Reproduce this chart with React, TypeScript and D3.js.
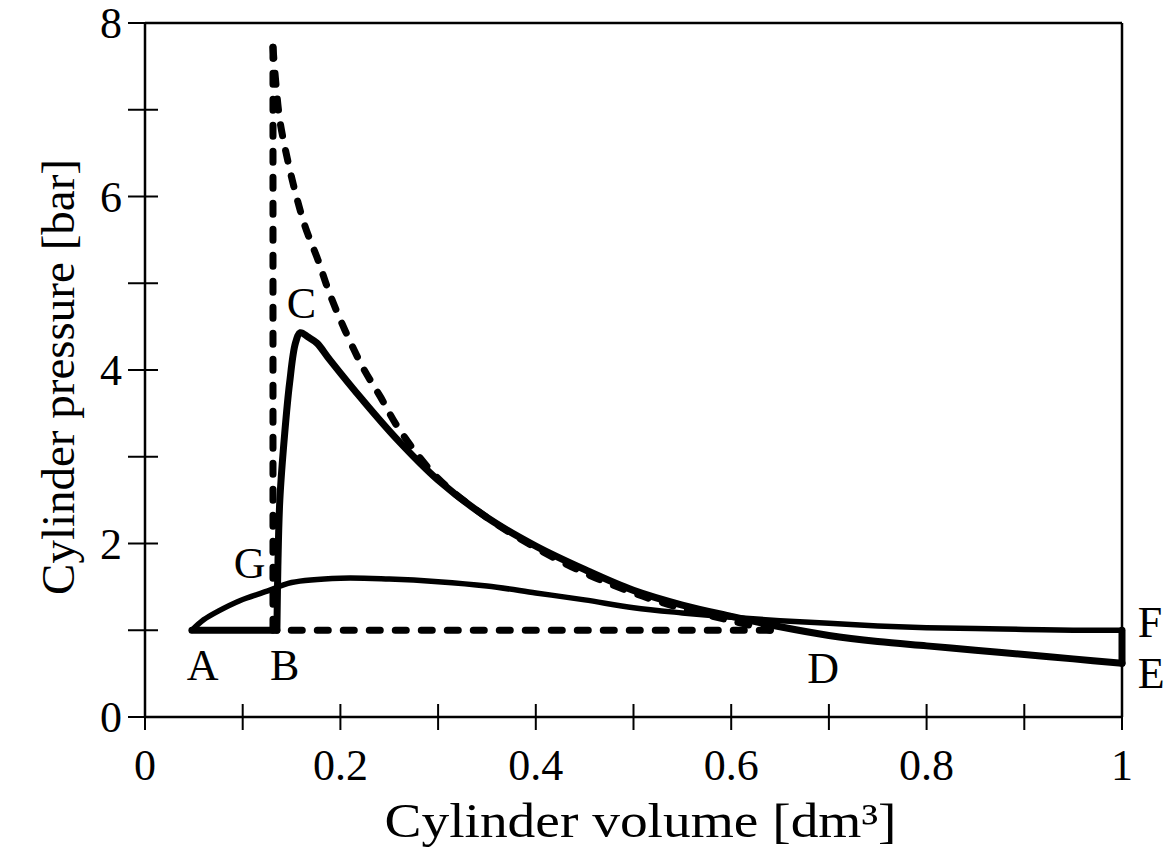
import React from "react";
import * as d3 from "d3";

// ideal cycle (dashed)
const idealTopV = [0.131, 0.131];
const idealTopP = [1.0, 7.72];
const idealExpV = [0.131, 0.134, 0.138, 0.146, 0.155, 0.164, 0.177, 0.189, 0.205, 0.223, 0.241, 0.26, 0.3, 0.35, 0.4, 0.45, 0.5, 0.55, 0.6, 0.64];
const idealExpP = [7.72, 7.3, 6.88, 6.42, 6.0, 5.65, 5.27, 4.88, 4.45, 4.03, 3.69, 3.32, 2.75, 2.3, 1.95, 1.66, 1.43, 1.25, 1.11, 1.0];
const idealBaseV = [0.64, 0.135];
const idealBaseP = [1.0, 1.0];

// measured cycle (solid)
const intakeV = [0.048, 0.135];
const intakeP = [1.0, 1.0];
const expansionV = [0.135, 0.136, 0.138, 0.143, 0.148, 0.154, 0.159, 0.167, 0.176, 0.189, 0.223, 0.258, 0.3, 0.35, 0.4, 0.45, 0.5, 0.55, 0.6, 0.65, 0.7, 0.75, 0.8, 0.85, 0.9, 0.95, 1.0];
const expansionP = [1.0, 1.73, 2.5, 3.27, 3.85, 4.31, 4.43, 4.38, 4.31, 4.12, 3.65, 3.2, 2.73, 2.3, 1.97, 1.7, 1.46, 1.29, 1.16, 1.04, 0.94, 0.87, 0.82, 0.77, 0.72, 0.67, 0.62];
const blowdownV = [1.0, 1.0];
const blowdownP = [0.62, 1.0];
const returnV = [1.0, 0.95, 0.9, 0.85, 0.8, 0.75, 0.7, 0.65, 0.6, 0.55, 0.5, 0.45, 0.4, 0.35, 0.3, 0.25, 0.2, 0.15, 0.125, 0.097, 0.075, 0.06, 0.048];
const returnP = [1.0, 1.0, 1.01, 1.02, 1.03, 1.05, 1.08, 1.11, 1.15, 1.2, 1.26, 1.35, 1.43, 1.51, 1.56, 1.59, 1.6, 1.55, 1.45, 1.34, 1.22, 1.12, 1.0];

// point labels
const pointNames = ["A", "B", "C", "G", "D", "E", "F"];
const pointV = [0.059, 0.143, 0.16, 0.107, 0.694, 1.016, 1.016];
const pointP = [0.43, 0.43, 4.6, 1.6, 0.39, 0.33, 0.92];

const xTicks = [0, 0.1, 0.2, 0.3, 0.4, 0.5, 0.6, 0.7, 0.8, 0.9, 1];
const xTickLabels = ["0", "", "0.2", "", "0.4", "", "0.6", "", "0.8", "", "1"];
const yTicks = [0, 1, 2, 3, 4, 5, 6, 7, 8];
const yTickLabels = ["0", "", "2", "", "4", "", "6", "", "8"];

const W = 1167;
const H = 863;
const margin = { top: 23, right: 45, bottom: 146, left: 145 };
const font = "'Liberation Serif', 'Times New Roman', serif";

const x = d3.scaleLinear().domain([0, 1]).range([margin.left, W - margin.right]);
const y = d3.scaleLinear().domain([0, 8]).range([H - margin.bottom, margin.top]);

function path(vs: number[], ps: number[], curved: boolean) {
  const pts = vs.map((v, i) => [x(v), y(ps[i])] as [number, number]);
  const gen = d3.line().curve(curved ? d3.curveCatmullRom.alpha(0.5) : d3.curveLinear);
  return gen(pts) || "";
}

export default function App() {
  const x0 = x(0), x1 = x(1), y0 = y(0), y1 = y(8);
  const dash = { fill: "none", stroke: "#000", strokeWidth: 7, strokeDasharray: "11 15", strokeLinecap: "round" as const };
  const solid = { fill: "none", stroke: "#000", strokeLinecap: "round" as const, strokeLinejoin: "round" as const };
  return (
    <>
      <style>{`body{margin:0}`}</style>
      <svg width={W} height={H} style={{ display: "block", background: "#fff" }} fontFamily={font}>
        {/* frame */}
        <g stroke="#000" strokeWidth={2.5} fill="none">
          <line x1={x0} y1={y0} x2={x1} y2={y0} />
          <line x1={x0} y1={y0} x2={x0} y2={y1} />
          <line x1={x0} y1={y1} x2={x1} y2={y1} />
          <line x1={x1} y1={y1} x2={x1} y2={y0} />
        </g>
        {/* x ticks */}
        {xTicks.map((t, i) => (
          <g key={"xt" + i}>
            <line x1={x(t)} x2={x(t)} y1={y0 - 13} y2={y0 + 13} stroke="#000" strokeWidth={2} />
            <text x={x(t)} y={y0 + 63} textAnchor="middle" fontSize={44}>{xTickLabels[i]}</text>
          </g>
        ))}
        {/* y ticks */}
        {yTicks.map((t, i) => (
          <g key={"yt" + i}>
            <line x1={x0 - 17} x2={x0 + 13} y1={y(t)} y2={y(t)} stroke="#000" strokeWidth={2} />
            <text x={x0 - 23} y={y(t) + 15} textAnchor="end" fontSize={44}>{yTickLabels[i]}</text>
          </g>
        ))}
        {/* axis titles */}
        <text x={(x0 + x1) / 2 + 7} y={837} textAnchor="middle" fontSize={49} textLength={512} lengthAdjust="spacingAndGlyphs">
          Cylinder volume [dm³]
        </text>
        <text transform={`translate(74, ${(y0 + y1) / 2 + 7}) rotate(-90)`} textAnchor="middle" fontSize={47}>
          Cylinder pressure [bar]
        </text>

        {/* ideal cycle */}
        <path d={path(idealBaseV, idealBaseP, false)} {...dash} />
        <path d={path(idealTopV, idealTopP, false)} {...dash} />
        <path d={path(idealExpV, idealExpP, true)} {...dash} />

        {/* measured cycle */}
        <path d={path(intakeV, intakeP, false)} {...solid} strokeWidth={7} />
        <path d={path(expansionV, expansionP, true)} {...solid} strokeWidth={7} />
        <path d={path(blowdownV, blowdownP, false)} {...solid} strokeWidth={7} />
        <path d={path(returnV, returnP, true)} {...solid} strokeWidth={5.5} />

        {/* point labels */}
        {pointNames.map((n, i) => (
          <text key={n} x={x(pointV[i])} y={y(pointP[i])} fontSize={44}
            textAnchor={n === "E" || n === "F" ? "start" : "middle"}>{n}</text>
        ))}
      </svg>
    </>
  );
}
